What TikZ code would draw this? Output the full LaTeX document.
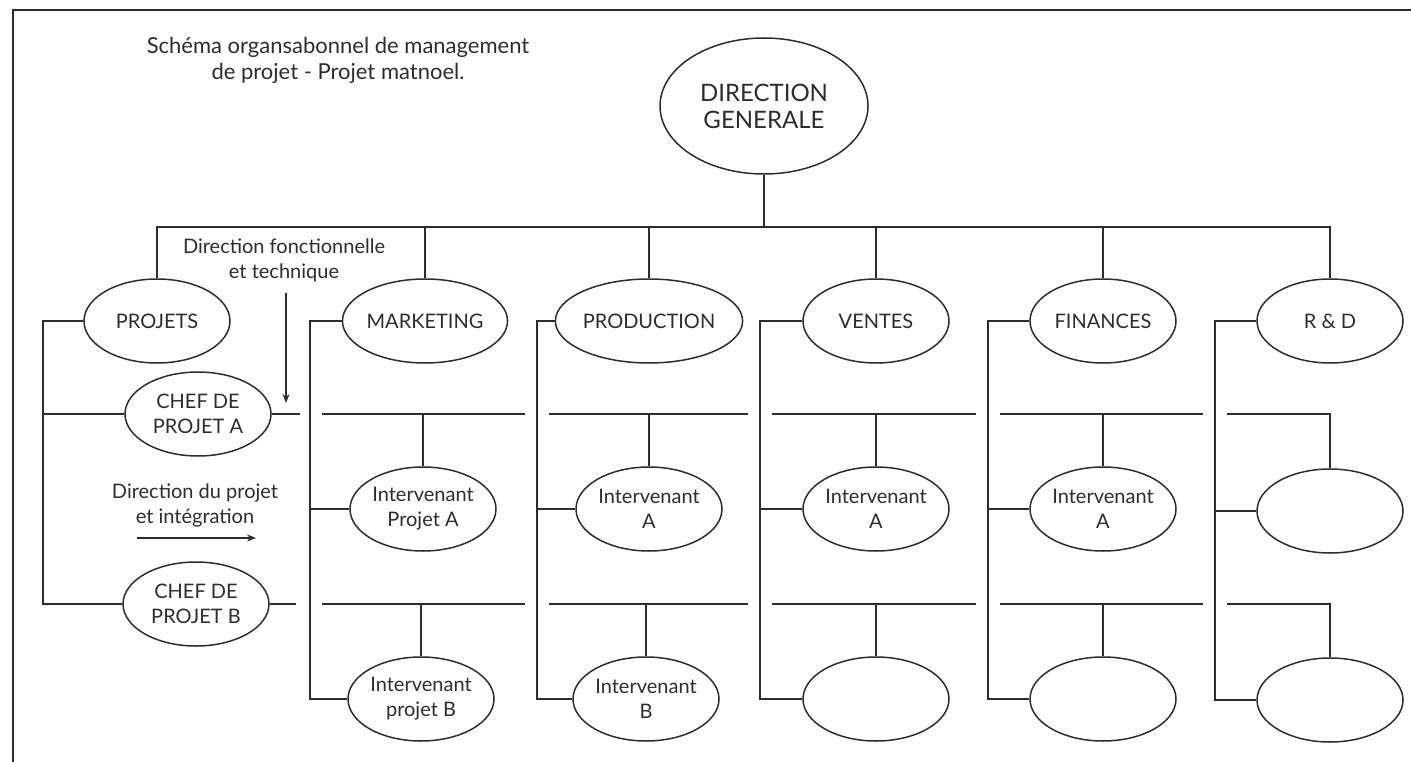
\documentclass[tikz,border=0pt]{standalone}
\usepackage{fontspec}
\setmainfont{Lato}
\usetikzlibrary{shapes.geometric,arrows.meta}
\definecolor{ink}{RGB}{45,45,45}
\tikzset{
  box/.style={ellipse, draw=ink, line width=1.5pt, minimum width=146pt, minimum height=84pt,
              inner sep=0pt, align=center, text=ink, font=\fontsize{20}{25}\selectfont},
  wire/.style={draw=ink, line width=1.5pt},
  lbl/.style={align=center, text=ink, font=\fontsize{20}{25}\selectfont},
  arr/.style={wire, -{Stealth[length=9pt,width=7pt]}}
}
\begin{document}
\begin{tikzpicture}[x=1pt,y=-1pt]
\useasboundingbox (0,0) rectangle (1411,762);
% frame
\coordinate (f1) at (1411,10);
\coordinate (f2) at (13,10);
\coordinate (f3) at (13,762);
\draw[wire] (f1) -- (f2) -- (f3);

% title
\node[lbl, font=\fontsize{22}{26}\selectfont] (title) at (338,60) {Schéma organsabonnel de management\\de projet - Projet matnoel.};

% top
\node[box, minimum width=208pt, minimum height=136pt, font=\fontsize{24}{27}\selectfont] (dg) at (764,106) {DIRECTION\\GENERALE};

% row 1
\node[box] (proj) at (157,321) {PROJETS};
\node[box] (mkt)  at (425,321) {MARKETING};
\node[box] (prod) at (649,321) {PRODUCTION};
\node[box] (vent) at (876,321) {VENTES};
\node[box] (fin)  at (1103,321) {FINANCES};
\node[box] (rd)   at (1330,321) {R \& D};

% chefs
\node[box] (chefA) at (198,414) {CHEF DE\\PROJET A};
\node[box] (chefB) at (196,604) {CHEF DE\\PROJET B};

% row 2
\node[box] (mkt2)  at (423,509) {Intervenant\\Projet A};
\node[box] (prod2) at (649,509) {Intervenant\\A};
\node[box] (vent2) at (876,509) {Intervenant\\A};
\node[box] (fin2)  at (1103,509) {Intervenant\\A};
\node[box] (rd2)   at (1330,511) {};

% row 3
\node[box] (mkt3)  at (421,699) {Intervenant\\projet B};
\node[box] (prod3) at (646,699) {Intervenant\\B};
\node[box] (vent3) at (876,699) {};
\node[box] (fin3)  at (1103,699) {};
\node[box] (rd3)   at (1330,700) {};

% bus
\coordinate (bus) at (764,227);
\draw[wire] (dg.south) -- (bus);
\draw[wire] (proj.north) -- (proj.north |- bus) -- (rd.north |- bus) -- (rd.north);
\foreach \n in {mkt,prod,vent,fin} \draw[wire] (\n.north) -- (\n.north |- bus);

% projets bracket
\coordinate (pb) at (43,0);
\draw[wire] (proj.west) -- (proj.west -| pb) -- (chefB.west -| pb) -- (chefB.west);
\draw[wire] (chefA.west -| pb) -- (chefA.west);
\coordinate (aEnd) at (300,414);
\coordinate (bEnd) at (296,604);
\draw[wire] (chefA.east) -- (aEnd);
\draw[wire] (chefB.east) -- (bEnd);

% department brackets
\foreach \n/\b in {mkt/310, prod/537, vent/760, fin/988, rd/1215}{
  \coordinate (\n b) at (\b,0);
  \draw[wire] (\n.west) -- (\n.west -| \n b) -- (\n3.west -| \n b) -- (\n3.west);
  \draw[wire] (\n2.west -| \n b) -- (\n2.west);
}

% row lines A and B
\coordinate (rowA) at (0,414);
\coordinate (rowB) at (0,604);
\foreach \n/\l/\r in {mkt/322/525, prod/549/748, vent/772/976, fin/1000/1203}{
  \coordinate (\n L) at (\l,0);
  \coordinate (\n R) at (\r,0);
  \draw[wire] (\n L |- rowA) -- (\n R |- rowA);
  \draw[wire] (\n L |- rowB) -- (\n R |- rowB);
  \draw[wire] (\n2.north |- rowA) -- (\n2.north);
  \draw[wire] (\n3.north |- rowB) -- (\n3.north);
}
\coordinate (rdL) at (1227,0);
\draw[wire] (rdL |- rowA) -- (rd2.north |- rowA) -- (rd2.north);
\draw[wire] (rdL |- rowB) -- (rd3.north |- rowB) -- (rd3.north);

% annotations
\node[lbl] (dft) at (284,260) {Direction fonctionnelle\\et technique};
\coordinate (a1s) at (286,293);
\coordinate (a1e) at (286,403);
\draw[arr] (a1s) -- (a1e);

\node[lbl] (dpi) at (195,505) {Direction du projet\\et intégration};
\coordinate (a2s) at (137,538);
\coordinate (a2e) at (256,538);
\draw[arr] (a2s) -- (a2e);
\end{tikzpicture}
\end{document}
